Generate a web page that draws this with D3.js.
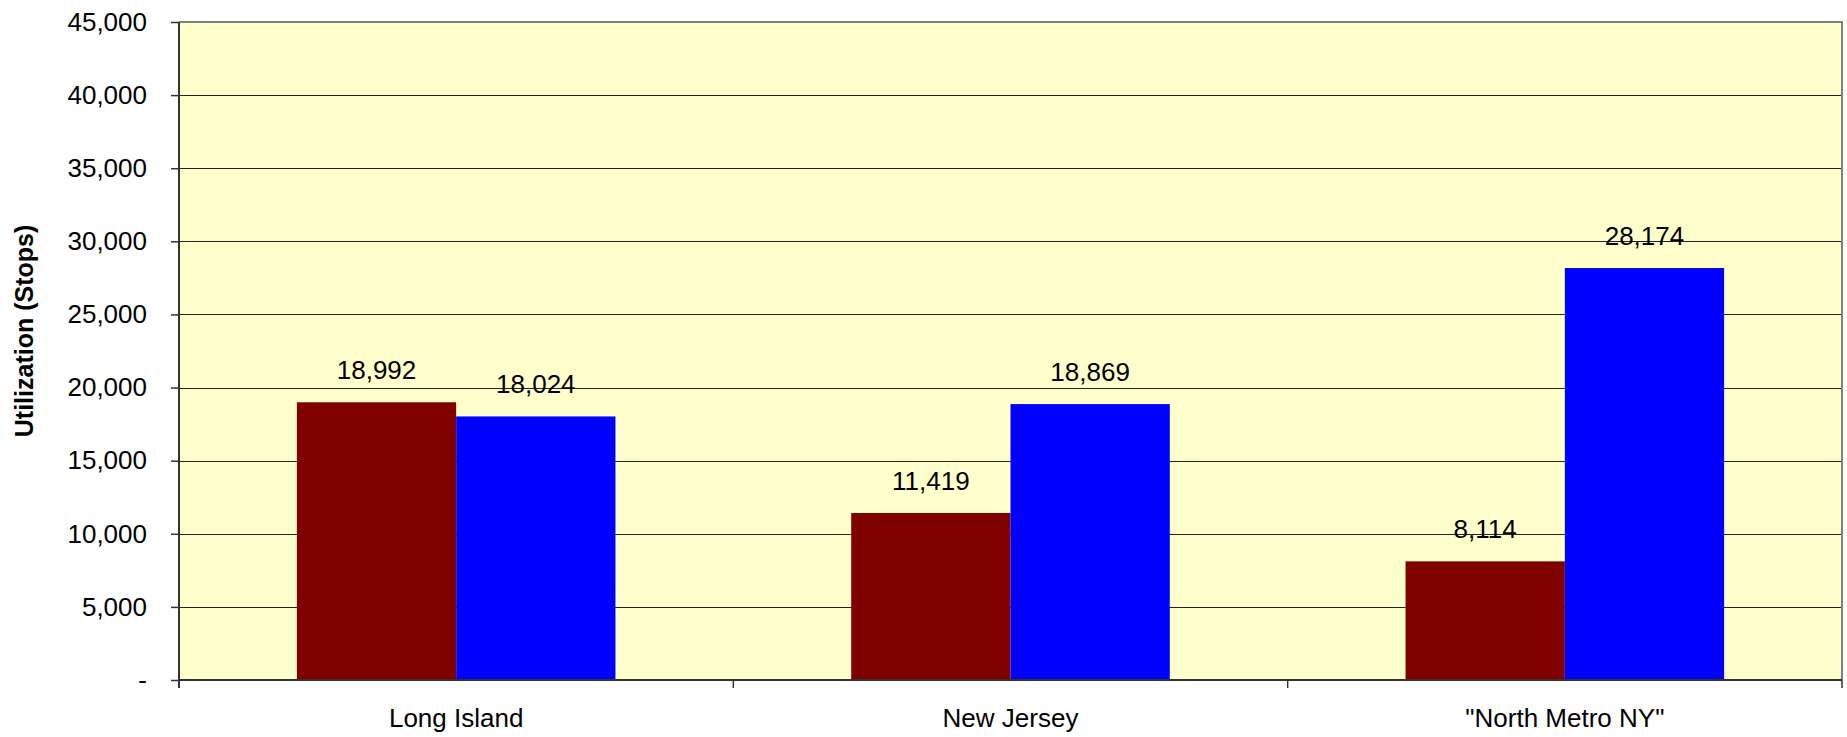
<!DOCTYPE html>
<html>
<head>
<meta charset="utf-8">
<script src="https://cdn.jsdelivr.net/npm/d3@7"></script>
<style>
  body { margin: 0; background: #fff; }
  text { font-family: "Liberation Sans", Arial, sans-serif; fill: #000; }
</style>
</head>
<body>
<div id="chart"></div>
<script>
const categories = ['Long Island', 'New Jersey', '"North Metro NY"'];
const seriesNames = ['first', 'second'];
const firstValues = [18992, 11419, 8114];
const secondValues = [18024, 18869, 28174];
const yTicks = [0, 5000, 10000, 15000, 20000, 25000, 30000, 35000, 40000, 45000];
const seriesColors = ['#800000', '#0000ff'];

const width = 1847, height = 737;
const plot = { left: 179, right: 1842, top: 22, bottom: 680 };

const svg = d3.select('#chart').append('svg')
  .attr('width', width)
  .attr('height', height);

const y = d3.scaleLinear()
  .domain([0, 45000])
  .range([plot.bottom, plot.top]);

const x0 = d3.scaleBand()
  .domain(categories)
  .range([plot.left, plot.right])
  .paddingInner(0)
  .paddingOuter(0);

const x1 = d3.scaleBand()
  .domain(seriesNames)
  .range([0, x0.bandwidth()])
  .paddingInner(0)
  .paddingOuter(0.74);

// plot background
svg.append('rect')
  .attr('x', plot.left)
  .attr('y', plot.top)
  .attr('width', plot.right - plot.left)
  .attr('height', plot.bottom - plot.top)
  .attr('fill', '#ffffcc');

// gridlines
svg.append('g')
  .selectAll('line')
  .data(yTicks.filter(d => d > 0 && d < 45000))
  .enter().append('line')
  .attr('x1', plot.left)
  .attr('x2', plot.right)
  .attr('y1', d => Math.round(y(d)) + 0.5)
  .attr('y2', d => Math.round(y(d)) + 0.5)
  .attr('stroke', '#222')
  .attr('stroke-width', 1);

// border top / right
svg.append('path')
  .attr('d', `M${plot.left},${plot.top}H${plot.right}V${plot.bottom}`)
  .attr('fill', 'none')
  .attr('stroke', '#808080')
  .attr('stroke-width', 2);

// bars
const rows = categories.map((c, i) => ({ cat: c, vals: [firstValues[i], secondValues[i]] }));

const groups = svg.append('g')
  .selectAll('g')
  .data(rows)
  .enter().append('g')
  .attr('transform', d => 'translate(' + x0(d.cat) + ',0)');

groups.selectAll('rect')
  .data(d => d.vals.map((v, k) => ({ key: seriesNames[k], value: v, color: seriesColors[k] })))
  .enter().append('rect')
  .attr('x', d => x1(d.key))
  .attr('y', d => y(d.value))
  .attr('width', x1.bandwidth())
  .attr('height', d => plot.bottom - y(d.value))
  .attr('fill', d => d.color);

groups.selectAll('text')
  .data(d => d.vals.map((v, k) => ({ key: seriesNames[k], value: v })))
  .enter().append('text')
  .attr('x', d => x1(d.key) + x1.bandwidth() / 2)
  .attr('y', d => y(d.value) - 23)
  .attr('text-anchor', 'middle')
  .style('font-size', '26px')
  .text(d => d3.format(',')(d.value));

// y axis
const yAxis = d3.axisLeft(y)
  .tickValues(yTicks)
  .tickSize(8)
  .tickPadding(24)
  .tickFormat(d => d === 0 ? '-' : d3.format(',')(d));

const yg = svg.append('g')
  .attr('transform', 'translate(' + plot.left + ',0)')
  .call(yAxis);
yg.select('.domain').remove();
yg.selectAll('line').attr('stroke', '#333').attr('stroke-width', 1.5);
yg.selectAll('text').style('font-size', '26px').attr('fill', '#000');

svg.append('line')
  .attr('x1', plot.left).attr('x2', plot.left)
  .attr('y1', plot.top).attr('y2', plot.bottom + 8)
  .attr('stroke', '#333').attr('stroke-width', 2);

// x axis
svg.append('line')
  .attr('x1', plot.left).attr('x2', plot.right)
  .attr('y1', plot.bottom).attr('y2', plot.bottom)
  .attr('stroke', '#333').attr('stroke-width', 2);

const tickXs = categories.map(c => x0(c)).concat([plot.right]);
svg.append('g')
  .selectAll('line')
  .data(tickXs)
  .enter().append('line')
  .attr('x1', d => d).attr('x2', d => d)
  .attr('y1', plot.bottom).attr('y2', plot.bottom + 8)
  .attr('stroke', '#333').attr('stroke-width', 1.5);

svg.append('g')
  .selectAll('text')
  .data(categories)
  .enter().append('text')
  .attr('x', d => x0(d) + x0.bandwidth() / 2)
  .attr('y', 727)
  .attr('text-anchor', 'middle')
  .style('font-size', '26px')
  .text(d => d);

// y title
svg.append('text')
  .attr('transform', 'translate(33,331) rotate(-90)')
  .attr('text-anchor', 'middle')
  .style('font-size', '25px')
  .style('font-weight', 'bold')
  .text('Utilization (Stops)');
</script>
</body>
</html>
